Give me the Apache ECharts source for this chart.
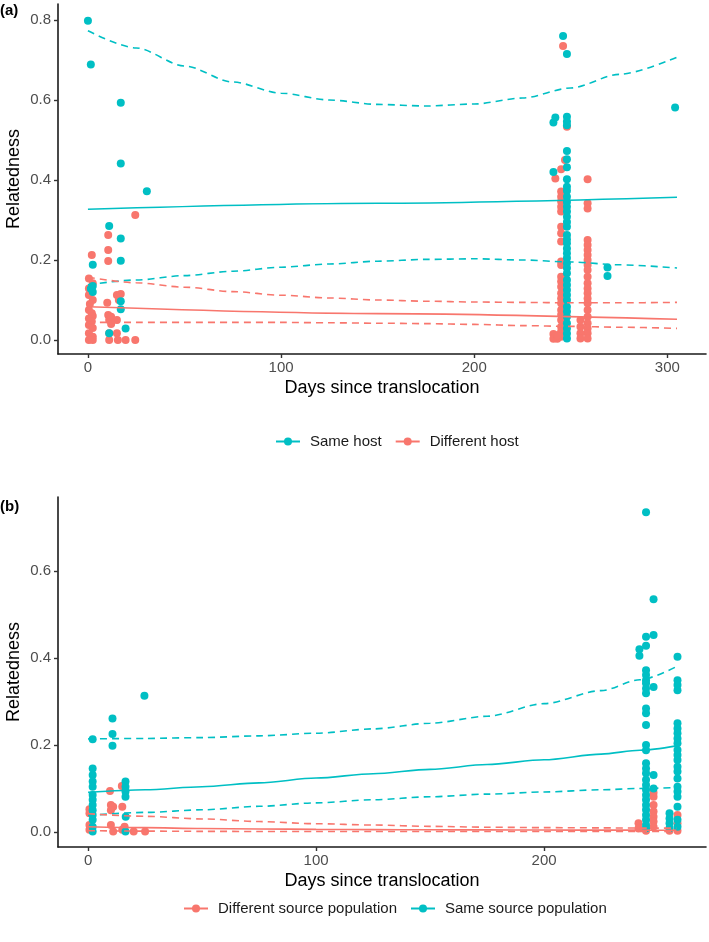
<!DOCTYPE html>
<html>
<head>
<meta charset="utf-8">
<script src="https://cdn.jsdelivr.net/npm/echarts/dist/echarts.min.js"></script>
<style>
html, body { margin: 0; padding: 0; background: #fff; }
#main { width: 709px; height: 942px; }
</style>
</head>
<body>
<div id="main"></div>
<script>
var TEAL = '#00BFC4', RED = '#F8766D';
var FONT = 'Liberation Sans, Arial, sans-serif';

// panel (a): points [day, relatedness]
var sameHostA = [
	[0, 0.798], [1.5, 0.689], [17, 0.593], [17, 0.441], [30.5, 0.372], [11, 0.285], [17, 0.254], [17, 0.198],
	[2.5, 0.188], [2.5, 0.135], [1.5, 0.128], [2.5, 0.12], [17, 0.097], [17, 0.077], [11, 0.017], [19.5, 0.029],
	[246, 0.76], [248, 0.715], [304, 0.581], [241, 0.544], [242, 0.556], [248, 0.558], [248, 0.546], [248, 0.537], [241, 0.42],
	[248, 0.4725], [248, 0.452], [248, 0.432], [248, 0.402], [248, 0.383], [248, 0.373], [248, 0.358], [248, 0.345],
	[248, 0.333], [248, 0.321], [248, 0.308], [248, 0.295], [248, 0.283], [248, 0.2625], [248, 0.252], [248, 0.242],
	[248, 0.229], [248, 0.217], [248, 0.205], [248, 0.192], [248, 0.18], [248, 0.167], [248, 0.15], [248, 0.1375],
	[248, 0.125], [248, 0.1125], [248, 0.1], [248, 0.083], [248, 0.071], [248, 0.058], [248, 0.042], [248, 0.029],
	[248, 0.016], [248, 0.004], [269, 0.181], [269, 0.16]
];
var diffHostA = [
	[2, 0.2125], [24.5, 0.3125], [10.5, 0.2625], [10.5, 0.225], [10.5, 0.1975],
	[0.5, 0.154], [2.5, 0.142], [0.5, 0.129], [2, 0.12], [0.5, 0.1125], [2.5, 0.1], [1, 0.09], [0.5, 0.075], [2, 0.067],
	[2.5, 0.06], [0.5, 0.054], [2, 0.046], [0.5, 0.0375], [2.5, 0.03], [0.5, 0.017], [2.5, 0.008], [0.5, 0], [2.5, 0],
	[10, 0.093], [10.5, 0.0625], [11, 0.05], [12, 0.058], [15, 0.1125], [17, 0.115], [16, 0.1], [15, 0.05], [12, 0.04],
	[11, 0.017], [11, 0], [15, 0.017], [15.5, 0], [19.5, 0], [24.5, 0],
	[246, 0.735], [248, 0.533], [247, 0.45], [245, 0.427], [242, 0.404],
	[245, 0.371], [245, 0.358], [245, 0.346], [245, 0.333], [245, 0.321], [245, 0.283], [245, 0.267], [245, 0.246],
	[245, 0.196], [245, 0.1875], [245, 0.158], [245, 0.146], [245, 0.133], [245, 0.117], [245, 0.104], [245, 0.092],
	[245, 0.075], [245, 0.063], [245, 0.05], [245, 0.033], [245, 0.021], [245, 0.008],
	[241, 0.015], [241, 0.003], [243, 0.003], [243, 0.012],
	[258.7, 0.402], [258.7, 0.342], [258.7, 0.329], [258.7, 0.25], [258.7, 0.2375], [258.7, 0.225], [258.7, 0.2125],
	[258.7, 0.2], [258.7, 0.1875], [258.7, 0.175], [258.7, 0.158], [258.7, 0.142], [258.7, 0.129], [258.7, 0.117],
	[258.7, 0.104], [258.7, 0.092], [258.7, 0.075], [258.7, 0.058], [258.7, 0.042], [258.7, 0.029], [258.7, 0.017],
	[258.7, 0.004], [255, 0.05], [255, 0.033], [255, 0.017], [255, 0.004]
];

// panel (a): fitted lines and confidence bands
var fitDaysA = [0, 150, 305];
var sameFitA = [0.327, 0.342, 0.357];
var diffFitA = [0.083, 0.066, 0.052];
var bandDaysA = [0, 25, 50, 75, 100, 125, 150, 175, 200, 225, 250, 275, 305];
var sameHiA = [0.773, 0.73, 0.685, 0.645, 0.617, 0.6, 0.589, 0.585, 0.59, 0.605, 0.63, 0.664, 0.707];
var sameLoA = [0.138, 0.15, 0.161, 0.172, 0.182, 0.19, 0.197, 0.2015, 0.203, 0.2, 0.195, 0.188, 0.18];
var diffHiA = [0.157, 0.143, 0.132, 0.121, 0.112, 0.105, 0.1, 0.097, 0.095, 0.094, 0.093, 0.093, 0.094];
var diffLoA = [0.044, 0.044, 0.044, 0.044, 0.044, 0.043, 0.042, 0.041, 0.039, 0.036, 0.034, 0.032, 0.029];

// panel (b): points [day, relatedness]
var sameSrcB = [
	[24.7, 0.313], [10.7, 0.261], [10.7, 0.225], [10.7, 0.198], [2, 0.213], [2, 0.146], [2, 0.131], [2, 0.116],
	[2, 0.104], [2, 0.085], [2, 0.074], [2, 0.062], [2, 0.05], [2, 0.039], [2, 0.028], [2, 0.012], [2, 0.001],
	[16.4, 0.116], [16.4, 0.104], [16.4, 0.093], [16.4, 0.081], [16.5, 0.035], [16.4, 0.001],
	[244.7, 0.735], [248, 0.535], [244.7, 0.449], [248, 0.453], [244.7, 0.428], [241.8, 0.42], [241.8, 0.405],
	[258.5, 0.403], [244.7, 0.372], [244.7, 0.361], [244.7, 0.349], [248, 0.333],
	[244.7, 0.342], [244.7, 0.33], [244.7, 0.319], [244.7, 0.284], [244.7, 0.273], [244.7, 0.246], [244.7, 0.2],
	[244.7, 0.188], [244.7, 0.158], [244.7, 0.146], [244.7, 0.135], [244.7, 0.12], [244.7, 0.108], [244.7, 0.097],
	[244.7, 0.085], [244.7, 0.074], [244.7, 0.062], [244.7, 0.051], [244.7, 0.039], [244.7, 0.028], [244.7, 0.016],
	[244.7, 0.0085], [248, 0.131], [248, 0.1],
	[258.5, 0.349], [258.5, 0.338], [258.5, 0.326], [258.5, 0.25], [258.5, 0.238], [258.5, 0.227], [258.5, 0.215],
	[258.5, 0.204], [258.5, 0.1885], [258.5, 0.177], [258.5, 0.1655], [258.5, 0.15], [258.5, 0.139], [258.5, 0.123],
	[258.5, 0.104], [258.5, 0.093], [258.5, 0.081], [258.5, 0.058], [258.5, 0.028], [258.5, 0.012],
	[255, 0.043], [255, 0.031], [255, 0.02], [255, 0.0085]
];
var diffSrcB = [
	[9.6, 0.094], [14.8, 0.106], [0.6, 0.052], [0.6, 0.043], [10, 0.062], [11, 0.058], [10, 0.05], [15, 0.058],
	[0.6, 0.016], [10, 0.016], [16, 0.012], [0.6, 0.005], [11, 0.001], [20, 0.001], [25, 0.001], [15, 0.005],
	[248, 0.09], [248, 0.081], [248, 0.062], [248, 0.047], [248, 0.035], [248, 0.024], [248, 0.012],
	[241.4, 0.02], [241.4, 0.008], [258.5, 0.039], [258.5, 0.02], [244.7, 0.003], [255, 0.003], [258.5, 0.003]
];

// panel (b): fitted lines and confidence bands
var curveDaysB = [0, 25, 50, 75, 100, 125, 150, 175, 200, 225, 242, 258];
var sameFitB = [0.091, 0.097, 0.104, 0.113, 0.124, 0.134, 0.144, 0.155, 0.166, 0.179, 0.188, 0.198];
var sameHiB = [0.214, 0.215, 0.217, 0.221, 0.227, 0.237, 0.25, 0.266, 0.295, 0.325, 0.35, 0.38];
var sameLoB = [0.038, 0.045, 0.051, 0.059, 0.067, 0.074, 0.081, 0.087, 0.092, 0.097, 0.1, 0.102];
var diffFitB = [0.012, 0.01, 0.008, 0.007, 0.006, 0.0055, 0.005, 0.0048, 0.0045, 0.0043, 0.0042, 0.004];
var diffHiB = [0.042, 0.036, 0.03, 0.024, 0.019, 0.016, 0.013, 0.011, 0.01, 0.0095, 0.009, 0.009];
var diffLoB = [0.003, 0.002, 0.0015, 0.0012, 0.001, 0.001, 0.001, 0.001, 0.001, 0.001, 0.001, 0.001];

var xTicksA = [0, 100, 200, 300];
var xTicksB = [0, 100, 200];
var yTicksA = [0, 0.2, 0.4, 0.6, 0.8];
var yTicksB = [0, 0.2, 0.4, 0.6];

function pairs(days, vals) {
	return days.map(function(d, i) { return [d, vals[i]]; });
}

function fitLine(name, idx, days, vals, color, dashed) {
	return {
		type : 'line',
		name : name,
		xAxisIndex : idx,
		yAxisIndex : idx,
		data : pairs(days, vals),
		smooth : 0.3,
		smoothMonotone : 'x',
		symbol : 'circle',
		showSymbol : false,
		silent : true,
		z : 3,
		itemStyle : { color : color },
		lineStyle : { color : color, width : 1.6, type : dashed ? [ 7, 5 ] : 'solid' }
	};
}

function points(name, idx, data, color) {
	return {
		type : 'scatter',
		name : name,
		xAxisIndex : idx,
		yAxisIndex : idx,
		data : data,
		symbolSize : 8,
		silent : true,
		z : 2,
		itemStyle : { color : color, opacity : 1 }
	};
}

function xAxis(idx, min, max, ticks) {
	return {
		type : 'value',
		gridIndex : idx,
		min : min,
		max : max,
		name : 'Days since translocation',
		nameLocation : 'middle',
		nameGap : 25,
		nameMoveOverlap : false,
		nameTextStyle : { fontSize : 18, color : '#000', fontFamily : FONT },
		axisLine : { show : true, onZero : false, lineStyle : { color : '#1a1a1a', width : 1.6 } },
		axisTick : { show : true, customValues : ticks, length : 4, lineStyle : { color : '#333', width : 1.4 } },
		axisLabel : { customValues : ticks, color : '#4d4d4d', fontSize : 15, margin : 6, fontFamily : FONT },
		splitLine : { show : false }
	};
}

function yAxis(idx, min, max, ticks) {
	return {
		type : 'value',
		gridIndex : idx,
		min : min,
		max : max,
		name : 'Relatedness',
		nameLocation : 'middle',
		nameGap : 35,
		nameMoveOverlap : false,
		nameTextStyle : { fontSize : 18, color : '#000', fontFamily : FONT },
		axisLine : { show : true, onZero : false, lineStyle : { color : '#1a1a1a', width : 1.6 } },
		axisTick : { show : true, customValues : ticks, length : 4, lineStyle : { color : '#333', width : 1.4 } },
		axisLabel : {
			customValues : ticks, color : '#4d4d4d', fontSize : 15, margin : 7, fontFamily : FONT,
			formatter : function(v) { return v.toFixed(1); }
		},
		splitLine : { show : false }
	};
}

function legend(names, left, top) {
	return {
		data : names,
		left : left,
		top : top,
		orient : 'horizontal',
		itemWidth : 24,
		itemHeight : 10,
		itemGap : 13,
		selectedMode : false,
		textStyle : { fontSize : 15, color : '#1a1a1a', fontFamily : FONT, padding : [ 0, 0, 0, 5 ] }
	};
}

var chart = echarts.init(document.getElementById('main'), null, { renderer : 'canvas' });

chart.setOption({
	animation : false,
	backgroundColor : '#fff',
	title : [
		{ text : '(a)', left : 0, top : 3, padding : 0, textStyle : { fontSize : 15, fontWeight : 'bold', color : '#000', fontFamily : FONT } },
		{ text : '(b)', left : 0, top : 499, padding : 0, textStyle : { fontSize : 15, fontWeight : 'bold', color : '#000', fontFamily : FONT } }
	],
	grid : [
		{ left : 58, top : 4, width : 648, height : 350, containLabel : false, outerBoundsMode : 'none' },
		{ left : 58, top : 497, width : 648, height : 350, containLabel : false, outerBoundsMode : 'none' }
	],
	xAxis : [ xAxis(0, -15.5, 320, xTicksA), xAxis(1, -13.2, 271, xTicksB) ],
	yAxis : [ yAxis(0, -0.035, 0.84, yTicksA), yAxis(1, -0.0345, 0.77, yTicksB) ],
	legend : [
		legend([ 'Same host', 'Different host' ], 270, 429),
		legend([ 'Different source population', 'Same source population' ], 178, 896)
	],
	series : [
		fitLine('Same host', 0, fitDaysA, sameFitA, TEAL, false),
		fitLine('Different host', 0, fitDaysA, diffFitA, RED, false),
		fitLine('Same host', 0, bandDaysA, sameHiA, TEAL, true),
		fitLine('Same host', 0, bandDaysA, sameLoA, TEAL, true),
		fitLine('Different host', 0, bandDaysA, diffHiA, RED, true),
		fitLine('Different host', 0, bandDaysA, diffLoA, RED, true),
		points('Different host', 0, diffHostA, RED),
		points('Same host', 0, sameHostA, TEAL),

		fitLine('Different source population', 1, curveDaysB, diffFitB, RED, false),
		fitLine('Same source population', 1, curveDaysB, sameFitB, TEAL, false),
		fitLine('Same source population', 1, curveDaysB, sameHiB, TEAL, true),
		fitLine('Same source population', 1, curveDaysB, sameLoB, TEAL, true),
		fitLine('Different source population', 1, curveDaysB, diffHiB, RED, true),
		fitLine('Different source population', 1, curveDaysB, diffLoB, RED, true),
		points('Different source population', 1, diffSrcB, RED),
		points('Same source population', 1, sameSrcB, TEAL)
	]
});
</script>
</body>
</html>
